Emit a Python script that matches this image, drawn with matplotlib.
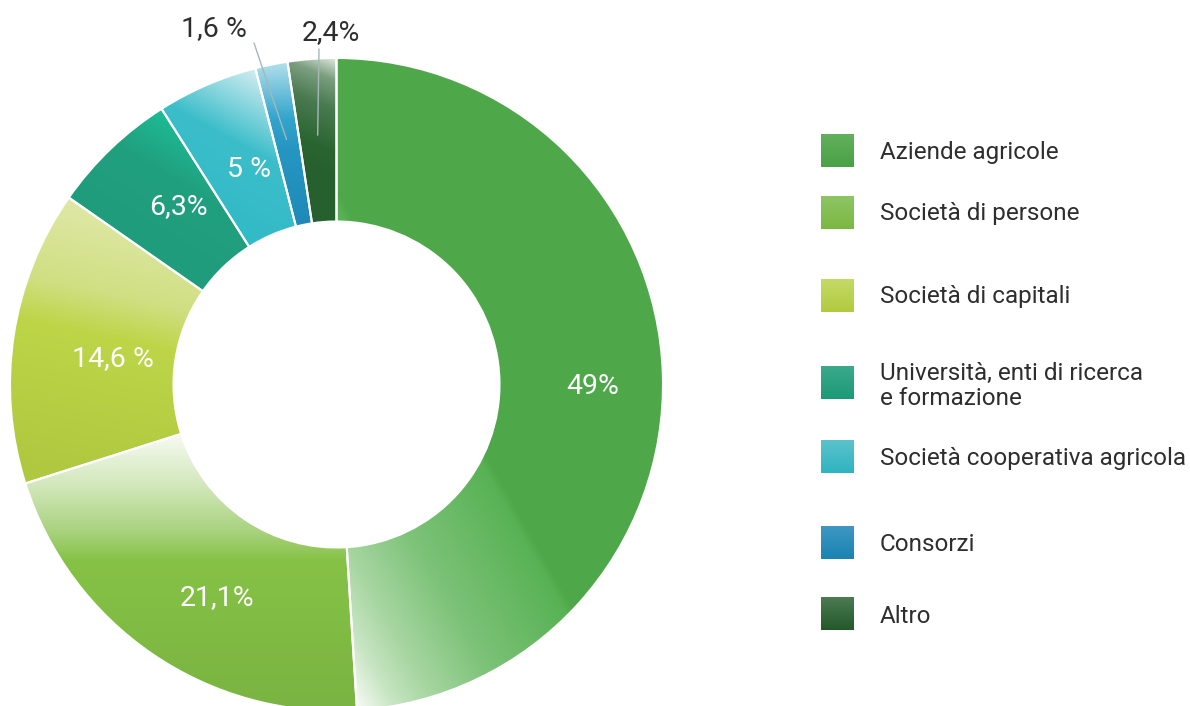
import numpy as np
import matplotlib.pyplot as plt
from matplotlib.colors import to_rgb

# --- data ---
categories = ['Aziende agricole', 'Società di persone', 'Società di capitali',
              'Università, enti di ricerca\ne formazione',
              'Società cooperativa agricola', 'Consorzi', 'Altro']
values = [49.0, 21.1, 14.6, 6.3, 5.0, 1.6, 2.4]
pct_labels = ['49%', '21,1%', '14,6 %', '6,3%', '5 %', '1,6 %', '2,4%']

# --- layout (pixels, image coords y down) ---
W, H = 1190, 706
CX, CY = 336.5, 384.5
R_OUT, R_IN = 326.5, 163.0

# label centre x / baseline y
label_pos = [(593, 394), (217, 605), (113, 366), (178, 214), (249, 177),
             (214, 36), (331, 40)]
label_col = ['white'] * 5 + ['#2e2e2e'] * 2
leader_end = {5: (254, 43), 6: (319, 49)}

legend_rows = [151, 213, 296, 383, 457, 543, 614]
legend_base = [159, 220, 303, 380, 465, 551, 623]

# gradients for each slice: start point, end point, colour stops
slice_grad = [
    ((360, 706), (578, 583), [(0, '#F2F8F0'), (0.12, '#C8E5C3'), (0.26, '#A8D6A2'),
                              (0.52, '#7CC278'), (0.9, '#58B254'), (0.93, '#4FA94A'), (1, '#4EA849')]),
    ((0, 437), (0, 706), [(0, '#F5F9EF'), (0.19, '#D0E6B8'), (0.35, '#A9D27E'),
                          (0.46, '#86C246'), (1, '#7AB442')]),
    ((150, 200), (90, 480), [(0, '#E2EAAE'), (0.35, '#D0DF82'), (0.5, '#BDD547'), (1, '#B0C83F')]),
    ((185, 90), (110, 215), [(0, '#B8E2D6'), (0.22, '#1DBA95'), (0.55, '#21A07F'), (1, '#1F9C7C')]),
    ((260, 70), (190, 200), [(0, '#D6EEF2'), (0.5, '#3CBECA'), (1, '#33BAC7')]),
    ((0, 62), (0, 222), [(0, '#B4E0EC'), (0.35, '#33A5CC'), (0.55, '#2596C2'), (1, '#1F8AB8')]),
    ((338, 56), (295, 160), [(0, '#EEF3EC'), (0.21, '#7B9E7F'), (0.45, '#4A7A50'),
                             (0.8, '#2A6531'), (1, '#27602F')]),
]
legend_grad = [('#62B05C', '#4AA146'), ('#8DC564', '#7DB742'), ('#C4DA66', '#B2CA3F'),
               ('#3BA98C', '#1C9A78'), ('#5BC2CB', '#2FB4C1'), ('#3E97C2', '#1B83B2'),
               ('#4C7A52', '#245A2B')]

GX, GY = np.meshgrid(np.arange(W) + 0.5, np.arange(H) + 0.5)


def gradient(p0, p1, stops):
    d = np.subtract(p1, p0).astype(float)
    t = ((GX - p0[0]) * d[0] + (GY - p0[1]) * d[1]) / (d @ d)
    t = np.clip(t, 0, 1)
    pos = [s[0] for s in stops]
    cols = np.array([to_rgb(s[1]) for s in stops])
    return np.stack([np.interp(t, pos, cols[:, k]) for k in range(3)], axis=-1)


fig = plt.figure(figsize=(W / 100, H / 100), dpi=100)
ax = fig.add_axes([0, 0, 1, 1])

wedges, _ = ax.pie(values, startangle=90, counterclock=False,
                   center=(CX, H - CY), radius=R_OUT,
                   wedgeprops=dict(width=R_OUT - R_IN, facecolor='none',
                                   edgecolor='white', linewidth=1.5, zorder=3))

for w, (p0, p1, stops) in zip(wedges, slice_grad):
    im = ax.imshow(gradient(p0, p1, stops), extent=(0, W, 0, H), origin='upper',
                   zorder=2, interpolation='bilinear')
    im.set_clip_path(w)

font = ['Roboto', 'DejaVu Sans']

# percentage labels
for i, (txt, (x, y)) in enumerate(zip(pct_labels, label_pos)):
    ax.text(x, H - y, txt, ha='center', va='baseline', fontsize=20.5,
            color=label_col[i], family=font, zorder=5)

# leader lines for the small slices
for i, end in leader_end.items():
    w = wedges[i]
    mid = np.deg2rad((w.theta1 + w.theta2) / 2)
    start = (CX + 250 * np.cos(mid), H - CY + 250 * np.sin(mid))
    ax.annotate('', xy=start, xytext=(end[0], H - end[1]),
                arrowprops=dict(arrowstyle='-', color='#A3B8B8', lw=1,
                                shrinkA=0, shrinkB=0), zorder=6)

# legend
for i, name in enumerate(categories):
    yc = legend_rows[i]
    c0, c1 = legend_grad[i]
    sq = np.linspace(to_rgb(c0), to_rgb(c1), 33)[:, None, :]
    ax.imshow(sq, extent=(821, 854, H - yc - 16.5, H - yc + 16.5), origin='upper',
              interpolation='bilinear', zorder=2)
    for j, line in enumerate(name.split('\n')):
        ax.text(880, H - legend_base[i] - 25 * j, line, ha='left', va='baseline',
                fontsize=17.5, color='#2e2e2e', family=font, zorder=5)

ax.set_xlim(0, W)
ax.set_ylim(0, H)
ax.set_aspect('auto')
ax.axis('off')

fig.savefig('out.png', dpi=100, facecolor='white')
